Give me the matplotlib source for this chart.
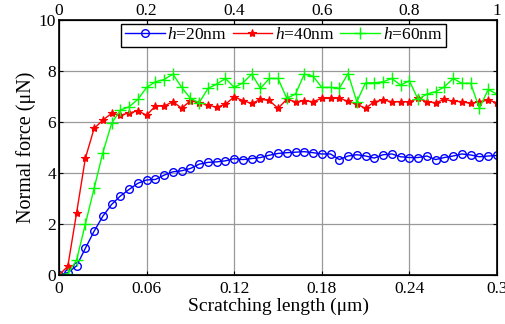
import numpy as np
import matplotlib
matplotlib.use('Agg')
import matplotlib.pyplot as plt

plt.rcParams['font.family'] = 'Liberation Serif'
plt.rcParams['mathtext.fontset'] = 'custom'
plt.rcParams['mathtext.rm'] = 'Liberation Serif'
plt.rcParams['mathtext.it'] = 'Liberation Serif:italic'

# scratching length (um), 51 samples
x = np.linspace(0, 0.3, 51)

f_20 = [0, 0.1, 0.36, 1.05, 1.72, 2.31, 2.77, 3.1, 3.36, 3.6,
        3.73, 3.75, 3.92, 4.05, 4.09, 4.18, 4.35, 4.42, 4.44, 4.48,
        4.57, 4.53, 4.57, 4.61, 4.7, 4.77, 4.8, 4.82, 4.84, 4.8,
        4.75, 4.75, 4.53, 4.67, 4.72, 4.67, 4.59, 4.72, 4.75, 4.64,
        4.61, 4.61, 4.67, 4.53, 4.61, 4.67, 4.75, 4.71, 4.64, 4.67,
        4.69]
f_40 = [0, 0.35, 2.44, 4.58, 5.75, 6.08, 6.34, 6.27, 6.36, 6.44,
        6.27, 6.63, 6.63, 6.8, 6.54, 6.84, 6.76, 6.67, 6.58, 6.7,
        6.99, 6.84, 6.73, 6.89, 6.85, 6.54, 6.89, 6.8, 6.84, 6.8,
        6.93, 6.93, 6.93, 6.82, 6.7, 6.54, 6.8, 6.86, 6.8, 6.8,
        6.8, 6.93, 6.8, 6.76, 6.89, 6.82, 6.8, 6.73, 6.8, 6.86,
        6.76]
f_60 = [0, 0.05, 0.59, 2.0, 3.4, 4.8, 5.95, 6.47, 6.6, 6.89,
        7.36, 7.58, 7.67, 7.88, 7.36, 6.93, 6.76, 7.32, 7.49, 7.71,
        7.36, 7.54, 7.88, 7.32, 7.71, 7.71, 6.93, 7.1, 7.88, 7.8,
        7.36, 7.36, 7.32, 7.9, 6.8, 7.54, 7.54, 7.58, 7.71, 7.45,
        7.62, 6.89, 7.1, 7.19, 7.38, 7.71, 7.52, 7.52, 6.54, 7.28,
        7.1]

xticks = [0, 0.06, 0.12, 0.18, 0.24, 0.3]
xticklabels = ['0', '0.06', '0.12', '0.18', '0.24', '0.3']
top_ticks = [0, 0.2, 0.4, 0.6, 0.8, 1]
top_labels = ['0', '0.2', '0.4', '0.6', '0.8', '1']

fig = plt.figure(figsize=(5.05, 3.24), dpi=100)
ax = fig.add_axes([0.117, 0.151, 0.867, 0.787])

ax.plot(x, f_20, '-o', color='#0000ff', lw=1, ms=5.5, mfc='none', mew=1,
        label='$h$=20nm')
ax.plot(x, f_40, '-*', color='#ff0000', lw=1, ms=6, mew=0.8,
        label='$h$=40nm')
ax.plot(x, f_60, '-+', color='#00ff00', lw=1, ms=8, mew=1,
        label='$h$=60nm')

ax.set_xlim(0, 0.3)
ax.set_ylim(0, 10)
ax.set_xticks(xticks)
ax.set_xticklabels(xticklabels)
ax.set_yticks([0, 2, 4, 6, 8, 10])
ax.grid(True, color='#999999', lw=0.9)
ax.tick_params(direction='in', labelsize=12.5, right=True, length=3, pad=2)
ax.tick_params(axis='x', pad=4)
ax.set_xlabel('Scratching length (\u03bcm)', fontsize=14, labelpad=1)
ax.set_ylabel('Normal force (\u03bcN)', fontsize=14.5, labelpad=2)
for s in ax.spines.values():
    s.set_linewidth(1.2)

ax2 = ax.twiny()
ax2.set_xlim(0, 1)
ax2.set_xticks(top_ticks)
ax2.set_xticklabels(top_labels)
ax2.tick_params(direction='in', labelsize=12.5, length=3, pad=1)

leg = ax.legend(loc='upper center', ncol=3, fontsize=12.5, frameon=True,
                fancybox=False, edgecolor='black', framealpha=1,
                borderpad=0.2, handlelength=2.3, columnspacing=0.3,
                handletextpad=0.15, borderaxespad=0.2,
                bbox_to_anchor=(0.513, 1.0))
leg.get_frame().set_linewidth(1)

fig.savefig('out.png', dpi=100)
